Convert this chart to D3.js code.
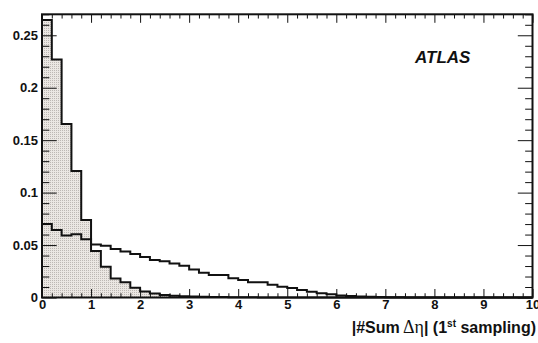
<!DOCTYPE html>
<html>
<head>
<meta charset="utf-8">
<script src="https://cdn.jsdelivr.net/npm/d3@7"></script>
<style>
  html, body { margin: 0; padding: 0; background: #fff; }
  svg { display: block; }
  text { font-family: "Liberation Sans", Arial, Helvetica, sans-serif; }
</style>
</head>
<body>
<div id="chart"></div>
<script>
// ---- data ----
const binEdgesStart = 0, binWidth = 0.2;
// filled (shaded) histogram: bin contents for bins of width 0.2 from 0 to 10
const filledValues = [0.2646, 0.2270, 0.1655, 0.1205, 0.0738, 0.0443, 0.0293, 0.0182, 0.0145, 0.0093,
                      0.0058, 0.0037, 0.0023, 0.0016, 0.0012, 0.0009, 0.0007, 0.0005, 0.0004, 0.0003,
                      0.0002, 0.0002, 0.0001, 0.0001, 0.0001, 0, 0, 0, 0, 0,
                      0, 0, 0, 0, 0, 0, 0, 0, 0, 0,
                      0, 0, 0, 0, 0, 0, 0, 0, 0, 0];
// open histogram
const openValues = [0.0700, 0.0643, 0.0592, 0.0602, 0.0556, 0.0506, 0.0493, 0.0462, 0.0438, 0.0414,
                    0.0386, 0.0358, 0.0345, 0.0324, 0.0302, 0.0268, 0.0236, 0.0214, 0.0214, 0.0183,
                    0.0167, 0.0145, 0.0145, 0.0122, 0.0103, 0.0090, 0.0071, 0.0055, 0.0040, 0.0030,
                    0.0020, 0.0014, 0.0010, 0.0007, 0.0005, 0.0003, 0.0002, 0.0001, 0.0001, 0,
                    0, 0, 0, 0, 0, 0, 0, 0, 0, 0];
const xTickValues = [0,1,2,3,4,5,6,7,8,9,10];
const xTickLabels = ["0","1","2","3","4","5","6","7","8","9","10"];
const yTickValues = [0, 0.05, 0.1, 0.15, 0.2, 0.25];
const yTickLabels = ["0", "0.05", "0.1", "0.15", "0.2", "0.25"];
const xDomain = [0, 10], yDomain = [0, 0.27];

// ---- layout ----
const W = 538, H = 343;
const L = 42, R = 532.5, T = 14.3, B = 297.5;

const svg = d3.select("#chart").append("svg").attr("width", W).attr("height", H);
const defs = svg.append("defs");
const pat = defs.append("pattern").attr("id", "stip").attr("patternUnits", "userSpaceOnUse")
  .attr("width", 2).attr("height", 2);
pat.append("rect").attr("width", 2).attr("height", 2).attr("fill", "#ebe7e3");
pat.append("rect").attr("width", 1).attr("height", 1).attr("fill", "#bdb8b4");

const x = d3.scaleLinear().domain(xDomain).range([L, R]);
const y = d3.scaleLinear().domain(yDomain).range([B, T]);

function stepPoints(vals) {
  const pts = [[x(binEdgesStart), y(0)]];
  vals.forEach((v, i) => {
    const x0 = x(binEdgesStart + i * binWidth), x1 = x(binEdgesStart + (i + 1) * binWidth);
    pts.push([x0, y(v)], [x1, y(v)]);
  });
  pts.push([x(binEdgesStart + vals.length * binWidth), y(0)]);
  return pts;
}
const line = d3.line();

// filled histogram
svg.append("path").attr("d", line(stepPoints(filledValues)) + "Z")
  .attr("fill", "url(#stip)").attr("stroke", "none");
svg.append("path").attr("d", line(stepPoints(filledValues)))
  .attr("fill", "none").attr("stroke", "#111").attr("stroke-width", 2).attr("stroke-linejoin", "miter");
// open histogram
svg.append("path").attr("d", line(stepPoints(openValues)))
  .attr("fill", "none").attr("stroke", "#111").attr("stroke-width", 2).attr("stroke-linejoin", "miter");

// ---- axes (ROOT style: ticks inside, mirrored) ----
const xMinor = d3.range(0, 10.0001, 0.2).map(v => +v.toFixed(2)).filter(v => !xTickValues.includes(v));
const yMinor = d3.range(0, 0.2701, 0.01).map(v => +v.toFixed(3)).filter(v => !yTickValues.some(t => Math.abs(t - v) < 1e-9));

const xMaj = 8.5, xMin = 4.25, yMaj = 14.7, yMin = 7.35;

function styleAxis(g) {
  g.select(".domain").remove();
  g.selectAll(".tick line").attr("stroke", "#111").attr("stroke-width", 1);
  g.selectAll("text").attr("font-weight", "bold").attr("font-size", "13px").attr("fill", "#111")
    .attr("font-family", "'Liberation Sans', Arial, sans-serif");
}

// bottom
svg.append("g").attr("transform", `translate(0,${B})`)
  .call(d3.axisBottom(x).tickValues(xMinor).tickSize(-xMin).tickFormat("")).call(styleAxis);
svg.append("g").attr("transform", `translate(0,${B})`)
  .call(d3.axisBottom(x).tickValues(xTickValues).tickSize(-xMaj).tickPadding(2)
    .tickFormat((d, i) => xTickLabels[i])).call(styleAxis);
// top
svg.append("g").attr("transform", `translate(0,${T})`)
  .call(d3.axisTop(x).tickValues(xMinor).tickSize(-xMin).tickFormat("")).call(styleAxis);
svg.append("g").attr("transform", `translate(0,${T})`)
  .call(d3.axisTop(x).tickValues(xTickValues).tickSize(-xMaj).tickFormat("")).call(styleAxis);
// left
svg.append("g").attr("transform", `translate(${L},0)`)
  .call(d3.axisLeft(y).tickValues(yMinor).tickSize(-yMin).tickFormat("")).call(styleAxis);
svg.append("g").attr("transform", `translate(${L},0)`)
  .call(d3.axisLeft(y).tickValues(yTickValues).tickSize(-yMaj).tickPadding(4)
    .tickFormat((d, i) => yTickLabels[i])).call(styleAxis);
// right
svg.append("g").attr("transform", `translate(${R},0)`)
  .call(d3.axisRight(y).tickValues(yMinor).tickSize(-yMin).tickFormat("")).call(styleAxis);
svg.append("g").attr("transform", `translate(${R},0)`)
  .call(d3.axisRight(y).tickValues(yTickValues).tickSize(-yMaj).tickFormat("")).call(styleAxis);

// frame
svg.append("rect").attr("x", L).attr("y", T).attr("width", R - L).attr("height", B - T)
  .attr("fill", "none").attr("stroke", "#111").attr("stroke-width", 2);

// x-axis title
const title = svg.append("text").attr("x", 536).attr("y", 333).attr("text-anchor", "end")
  .attr("font-size", "16px").attr("font-weight", "bold").attr("fill", "#111");
title.append("tspan").text("|#Sum\u2009");
title.append("tspan").attr("font-family", "'Liberation Serif', 'Times New Roman', serif")
  .attr("font-size", "18px").attr("font-weight", "normal").text("\u0394\u03B7");
title.append("tspan").text("| (1");
title.append("tspan").attr("font-size", "10px").attr("dy", -6).text("st");
title.append("tspan").attr("dy", 6).text(" sampling)");

// ATLAS label
svg.append("text").attr("x", 415).attr("y", 63).attr("font-size", "17px")
  .attr("font-weight", "bold").attr("font-style", "italic").attr("fill", "#111").text("ATLAS");
</script>
</body>
</html>
